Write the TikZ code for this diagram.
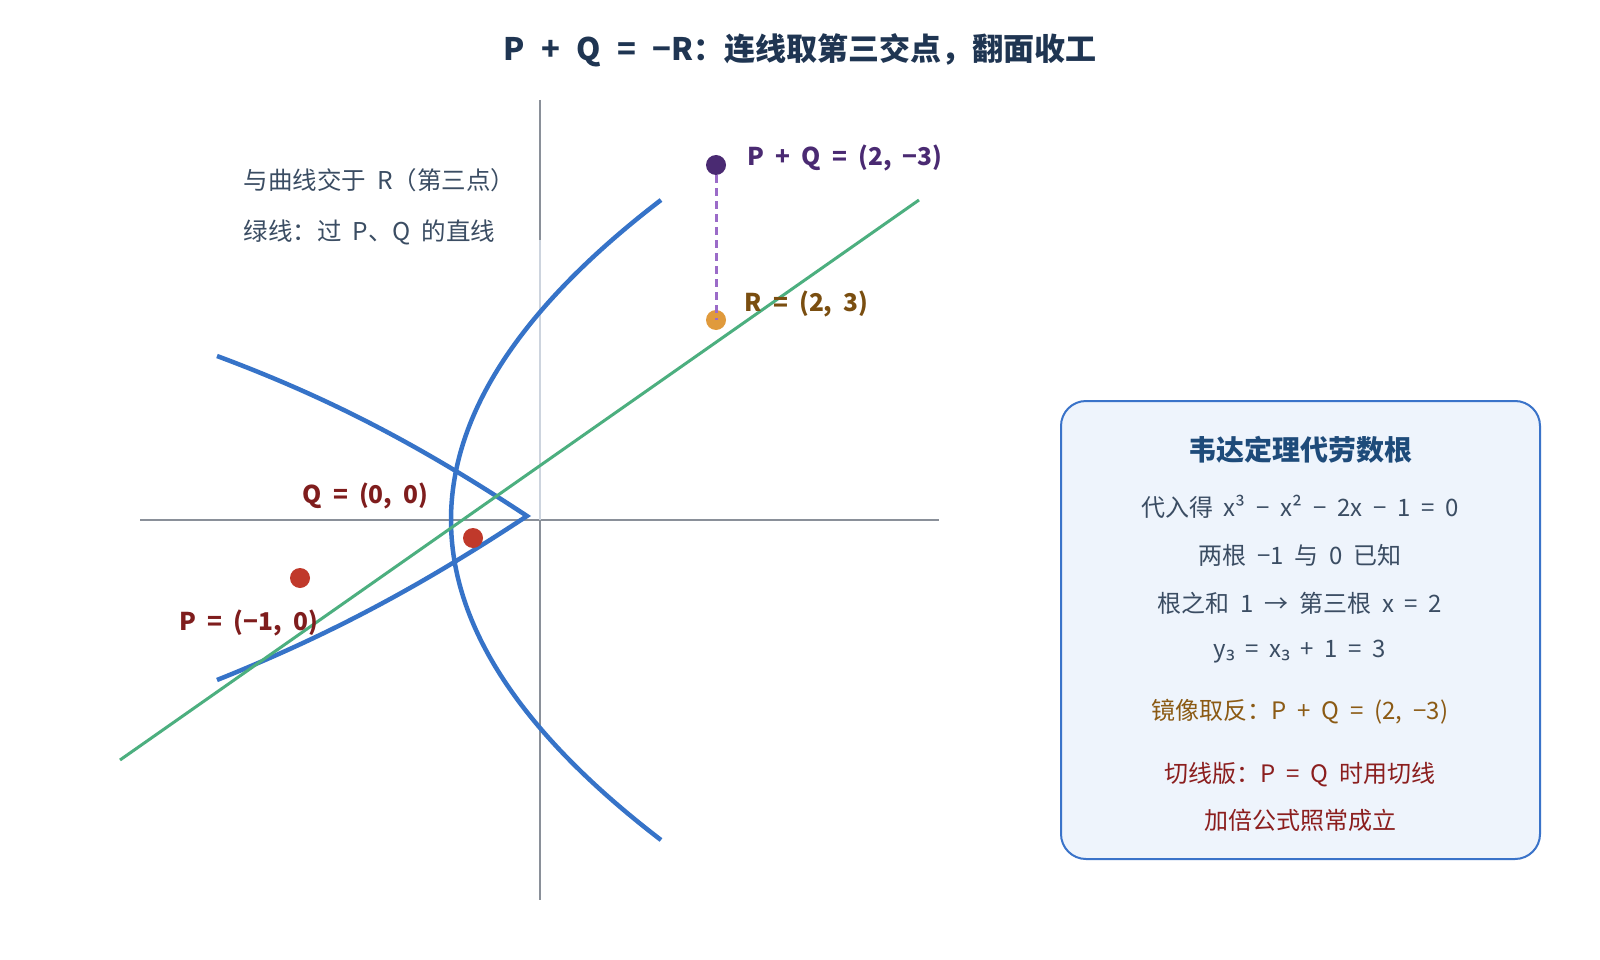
\documentclass[tikz,border=0pt]{standalone}
\usepackage{fontspec}
\setmainfont{Noto Sans CJK SC}[WordSpace=2.0]
\newfontfamily\titlefont{Noto Sans CJK SC}[WordSpace=2.3]
\newfontfamily\subfont{Noto Sans}[WordSpace=2.0]
\usetikzlibrary{positioning}

\definecolor{titleink}{HTML}{1F3552}
\definecolor{noteink}{HTML}{3B4D63}
\definecolor{axisgray}{HTML}{8A9099}
\definecolor{axislight}{HTML}{CDD4DE}
\definecolor{curveblue}{HTML}{3673C8}
\definecolor{linegreen}{HTML}{4CAF7F}
\definecolor{ptred}{HTML}{C0392B}
\definecolor{lblred}{HTML}{7F1D1D}
\definecolor{rorange}{HTML}{E09A3C}
\definecolor{rbrown}{HTML}{7A4E10}
\definecolor{sumpurple}{HTML}{4A2A72}
\definecolor{dashpurple}{HTML}{9B6BC8}
\definecolor{boxblue}{HTML}{3A73C9}
\definecolor{boxfill}{HTML}{EEF4FC}
\definecolor{boxtitle}{HTML}{1E4B7A}
\definecolor{mirrorbrown}{HTML}{8B5A14}
\definecolor{tangentred}{HTML}{8B1E1E}

\begin{document}
\begin{tikzpicture}[x=1pt,y=-1pt,
  axis/.style={draw=axisgray,line width=2pt},
  curve/.style={draw=curveblue,line width=4.5pt,line join=miter},
  dot/.style={circle,inner sep=0pt,minimum size=20pt},
  note/.style={anchor=west,text=noteink,font=\fontsize{24.5}{28}\selectfont},
  ptlabel/.style={anchor=west,font=\bfseries\fontsize{24.5}{28}\selectfont},
  boxline/.style={text=noteink,font=\fontsize{24}{28}\selectfont}]
   \useasboundingbox[fill=white] (0,0) rectangle (1600,960);
   \node[text=titleink,font=\titlefont\bfseries\fontsize{31}{36}\selectfont] (title) at (800,50) {P + Q = −R：连线取第三交点，翻面收工};

   % axes
   \draw[axis] (140,520) -- (939,520);
   \draw[axis] (540,100) -- (540,240);
   \draw[axis,draw=axislight] (540,240) -- (540,520);
   \draw[axis] (540,520) -- (540,900);

   % the curve
   \draw[curve] (217,356) .. controls (327,397) and (417,443.4) .. (527,516)
     .. controls (417,588.6) and (327,636) .. (217,680);
   \draw[curve] (661,200) .. controls (521.7,306.7) and (451,413.3) .. (451,520)
     .. controls (451,626.7) and (521.7,733.3) .. (661,840);

   % the chord
   \coordinate (g0) at (120,760);
   \coordinate (g1) at (919,200);
   \draw[linegreen,line width=3pt] (g0) -- (g1);

   \node[note] (n1) at (240,180) {与曲线交于 R（第三点）};
   \node[note] (n2) at (240,232) {绿线：过 P、Q 的直线};

   \node[dot,fill=ptred] (P) at (300,578) {};
   \node[dot,fill=ptred] (Q) at (473,538) {};
   \node[dot,fill=rorange] (R) at (716,320) {};
   \node[dot,fill=sumpurple] (S) at (716,165) {};
   \draw[dashpurple,line width=3pt,dash pattern=on 8pt off 5pt] (S) -- (R.center);

   \node[ptlabel,text=lblred] (Plbl) at (176,623) {P = (−1, 0)};
   \node[ptlabel,text=lblred] (Qlbl) at (299,496) {Q = (0, 0)};
   \node[ptlabel,text=rbrown] (Rlbl) at (741,304) {R = (2, 3)};
   \node[ptlabel,text=sumpurple] (Slbl) at (744,158) {P + Q = (2, −3)};

   % Vieta box
   \node[draw=boxblue,fill=boxfill,line width=2pt,rounded corners=25pt,
     minimum width=479pt,minimum height=458pt,inner sep=0pt] (vieta) at (1300.5,630) {};
   \node[text=boxtitle,font=\bfseries\fontsize{28}{32}\selectfont] (vt) at (1300,450) {韦达定理代劳数根};
   \node[boxline] (v1) at (1300,507) {代入得 x³ − x² − 2x − 1 = 0};
   \node[boxline] (v2) at (1300,555) {两根 −1 与 0 已知};
   \node[boxline] (v3) at (1300,603) {根之和 1 → 第三根 x = 2};
   \node[boxline] (v4) at (1300,652) {y{\subfont ₃} = x{\subfont ₃} + 1 = 3};
   \node[boxline,text=mirrorbrown] (v5) at (1300,712) {镜像取反：P + Q = (2, −3)};
   \node[boxline,text=tangentred] (v6) at (1300,775) {切线版：P = Q 时用切线};
   \node[boxline,text=tangentred] (v7) at (1300,820) {加倍公式照常成立};
\end{tikzpicture}
\end{document}
